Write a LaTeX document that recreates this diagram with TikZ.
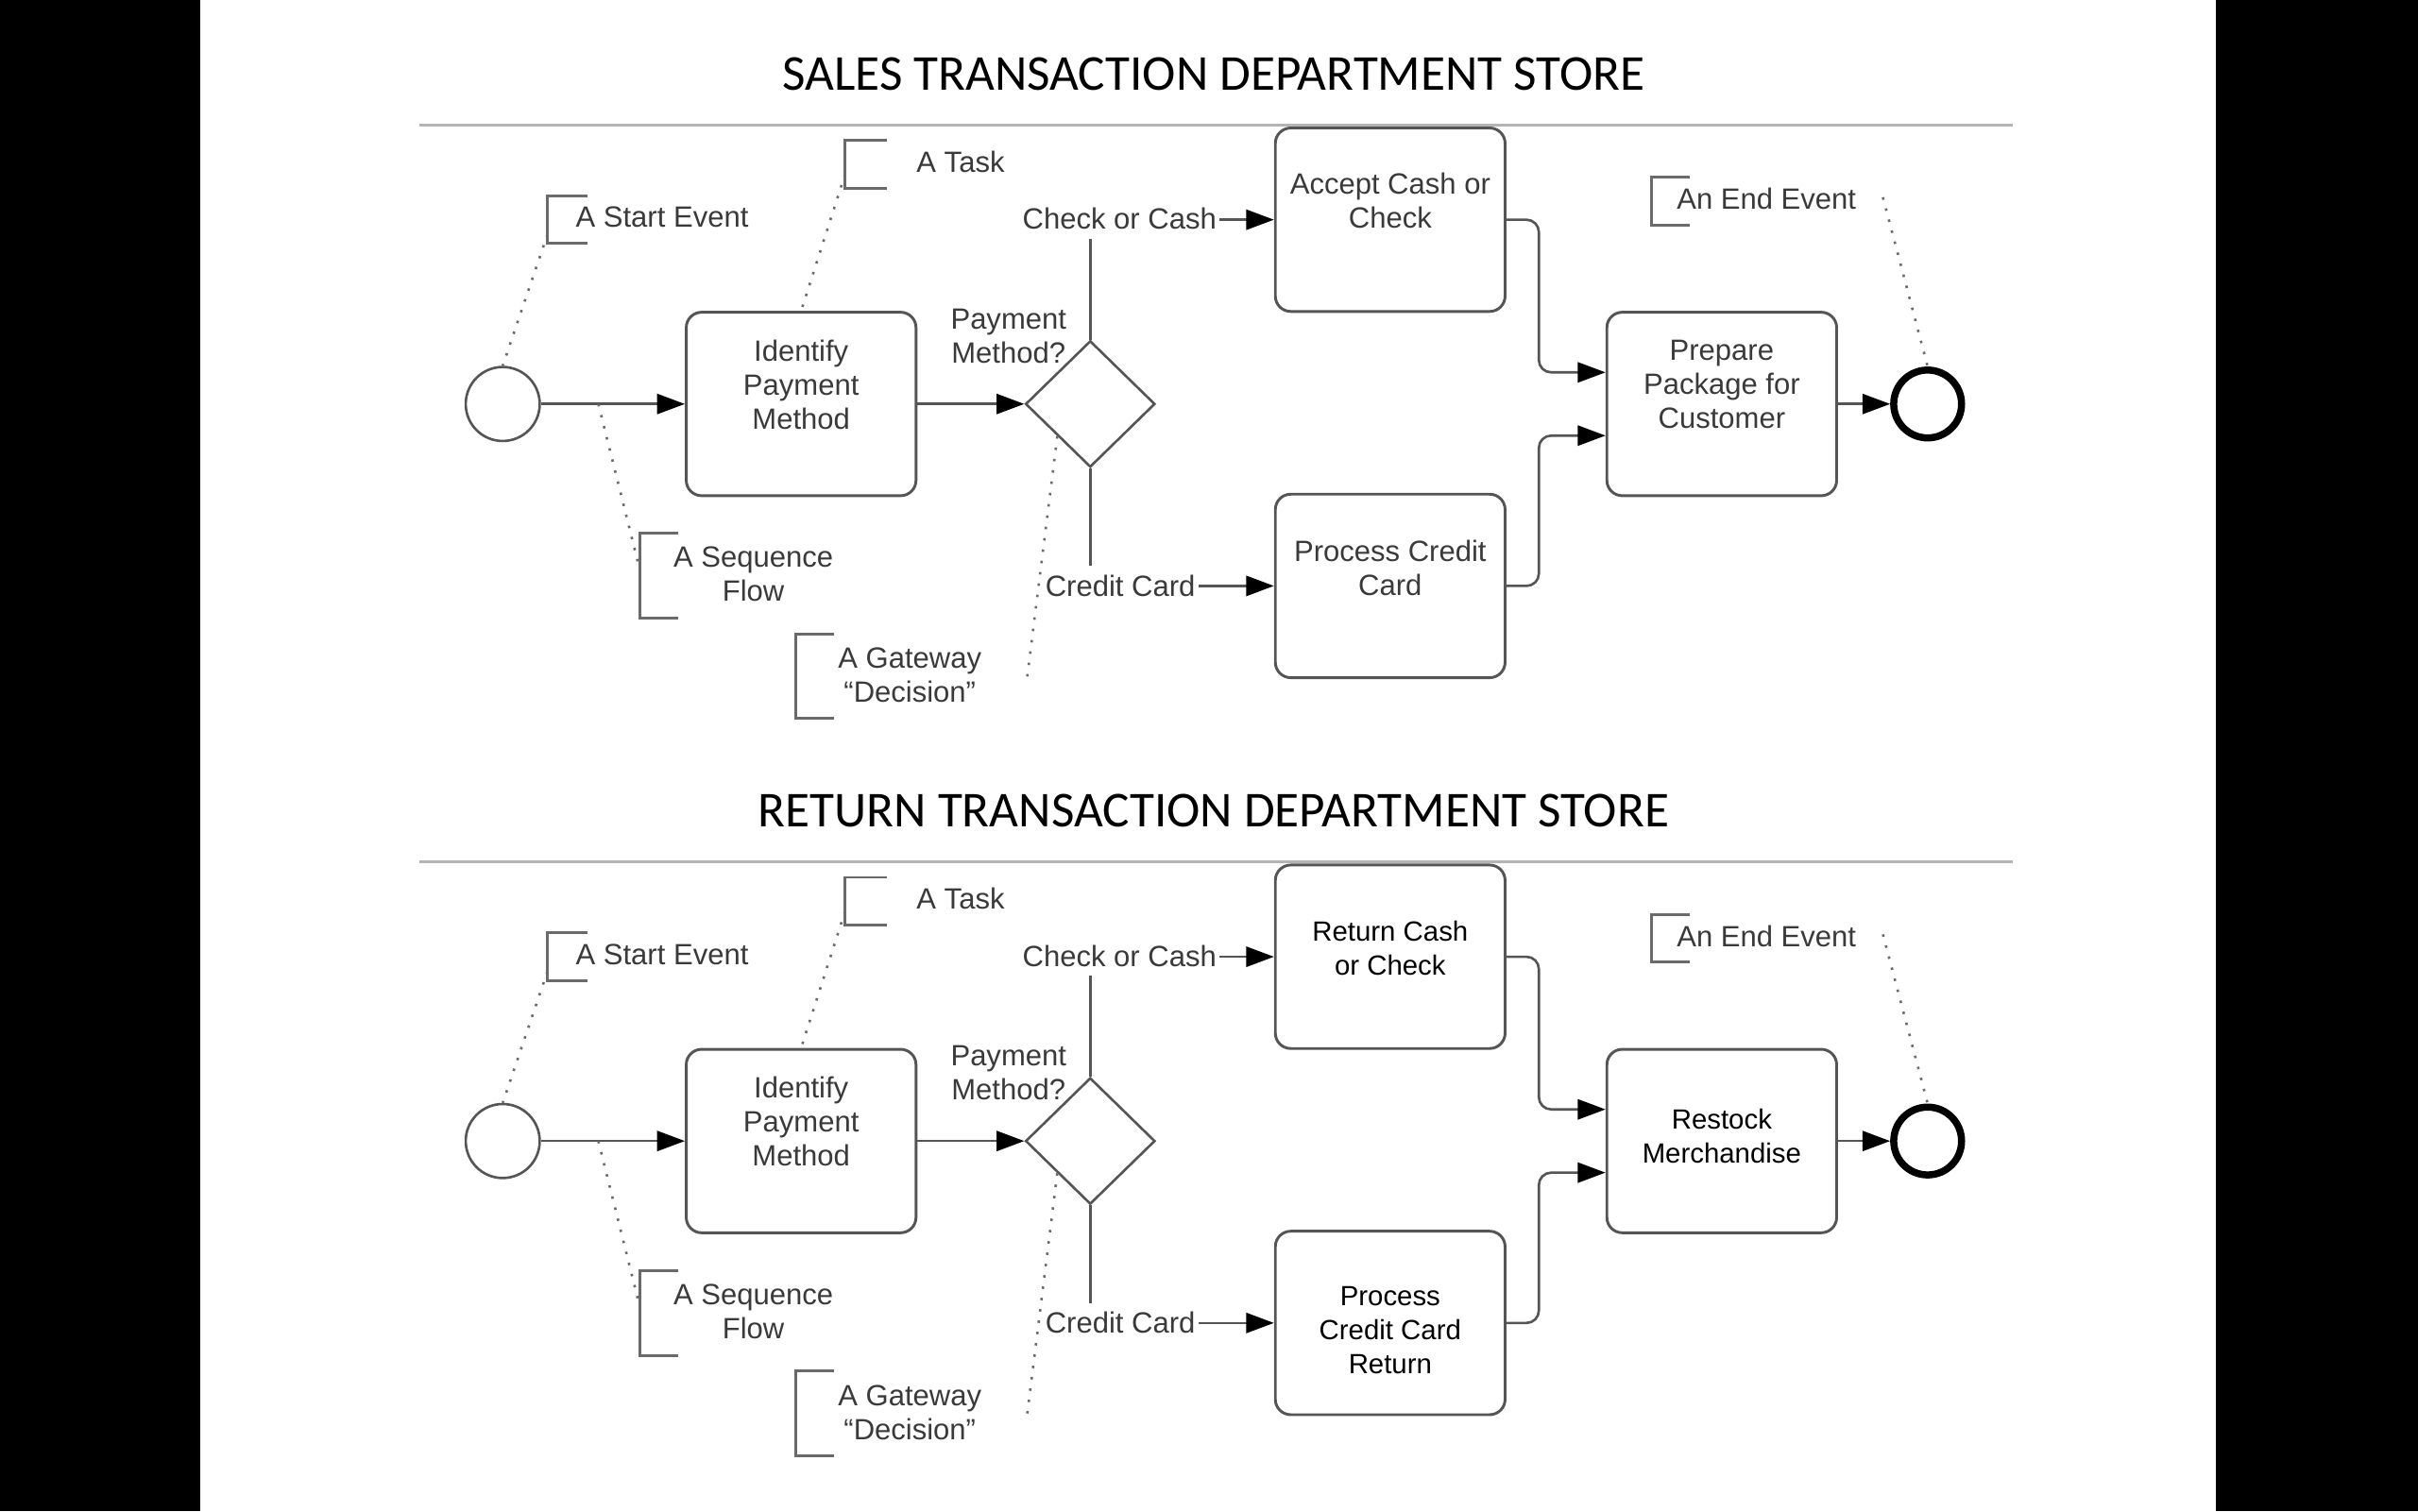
\documentclass[tikz,border=0pt]{standalone}
\usepackage{fontspec}
\setmainfont{Liberation Sans}
\newfontfamily\titlefont{Carlito}
\usetikzlibrary{shapes.geometric,arrows.meta}
\definecolor{linegray}{HTML}{555555}
\definecolor{textgray}{HTML}{3A3A3A}
\definecolor{rulegray}{HTML}{B4B4B4}
\definecolor{notegray}{HTML}{6A6A6A}

\begin{document}
\begin{tikzpicture}[x=0.5pt,y=0.5pt,yscale=-1,xscale=1,
  every node/.style={font=\fontsize{9.5}{11}\selectfont, text=textgray, inner sep=0pt},
  diagtitle/.style={font=\titlefont\fontsize{16.3}{20}\selectfont, text=black},
  task/.style={draw=linegray, line width=0.9pt, rounded corners=5pt, minimum width=74.5pt, minimum height=59.5pt},
  tasktext/.style={anchor=north, align=center},
  newtext/.style={anchor=north, align=center, text=black, font=\fontsize{9}{11}\selectfont},
  gateway/.style={draw=linegray, line width=0.8pt, diamond, minimum width=42pt, minimum height=41pt},
  startev/.style={draw=linegray, line width=0.8pt, circle, minimum size=24pt},
  endev/.style={draw=black, line width=2.3pt, circle, minimum size=22pt},
  flow/.style={draw=linegray, line width=0.8pt, -{Triangle[length=9pt,width=6.5pt,color=black]}},
  flowlabel/.style={fill=white, inner xsep=1pt, inner ysep=3pt},
  bracket/.style={draw=notegray, line width=0.9pt},
  assoc/.style={draw=notegray, line width=0.8pt, dash pattern=on 0.8pt off 2.9pt}
]
\useasboundingbox (0,0) rectangle (1568,980);
%Black side bars
\fill[black] (0,0) rectangle (130,980);
\fill[black] (1437,0) rectangle (1568,980);

%%%%%%%%%%%%%%%% SALES %%%%%%%%%%%%%%%%
% Title
\node[diagtitle] (titlea) at (787,48) {SALES TRANSACTION DEPARTMENT STORE};
%Straight Lines
\draw[rulegray, line width=1pt] (272,81) -- (1305,81);

%Shapes
\node[startev] (starta) at (326,262) {};
\node[task] (identa) at (519.5,262) {};
\node[gateway] (gwa) at (707,262) {};
\node[task] (accepta) at (901.5,142.5) {};
\node[task] (processa) at (901.5,380) {};
\node[task] (prepa) at (1116.5,262) {};
\node[endev] (enda) at (1250,262) {};

%Flows
\draw[flow] (starta) -- (identa);
\draw[flow] (identa) -- (gwa);
\draw[flow] (gwa.north) |- (accepta);
\draw[flow] (gwa.south) |- (processa);
\draw[flow, rounded corners=4pt] (accepta.east) -- ++(21,0) |- ([yshift=-10.25pt]prepa.west);
\draw[flow, rounded corners=4pt] (processa.east) -- ++(21,0) |- ([yshift=10.25pt]prepa.west);
\draw[flow] (prepa) -- (enda);

% Text Node
\node[flowlabel] (casha) at (726,142) {Check or Cash};
\node[flowlabel] (credita) at (726.5,380) {Credit Card};
\node[align=center] (gwatxt) at (654,218) {Payment\\Method?};
\node[tasktext] (identatxt) at (519.5,220) {Identify\\Payment\\Method};
\node[tasktext] (acceptatxt) at (901.5,112) {Accept Cash or\\Check};
\node[tasktext] (processatxt) at (901.5,350) {Process Credit\\Card};
\node[tasktext] (prepatxt) at (1116.5,220) {Prepare\\Package for\\Customer};

%Annotations
\draw[bracket] (381,127) -- (355,127) -- (355,158) -- (381,158);
\node[anchor=west] (startnotea) at (373,141) {A Start Event};
\coordinate (startpta) at (355,152);
\draw[assoc] (startpta) -- (starta.north);

\draw[bracket] (575,91) -- (548,91) -- (548,122) -- (575,122);
\node[anchor=west] (tasknotea) at (594,105) {A Task};
\coordinate (taskpta) at (548,113);
\draw[assoc] (taskpta) -- (identa.north);

\draw[bracket] (440,346) -- (415,346) -- (415,401) -- (440,401);
\node[align=center] (seqnotea) at (488.5,372.5) {A Sequence\\Flow};
\coordinate (seqpta) at (388,262);
\coordinate (seqenda) at (415,370);
\draw[assoc] (seqpta) -- (seqenda);

\draw[bracket] (541,411) -- (516,411) -- (516,466) -- (541,466);
\node[align=center] (gwnotea) at (590,438) {A Gateway\\“Decision”};
\coordinate (gwenda) at (666,440);
\draw[assoc] (gwa.south west) -- (gwenda);

\draw[bracket] (1096,115) -- (1071,115) -- (1071,146) -- (1096,146);
\node[anchor=west] (endnotea) at (1087,129) {An End Event};
\coordinate (endpta) at (1221,128);
\draw[assoc] (endpta) -- (enda.north);

%%%%%%%%%%%%%%%% RETURN %%%%%%%%%%%%%%%%
% Title
\node[diagtitle] (titleb) at (787,526) {RETURN TRANSACTION DEPARTMENT STORE};
%Straight Lines
\draw[rulegray, line width=1pt] (272,559) -- (1305,559);

%Shapes
\node[startev] (startb) at (326,740) {};
\node[task] (identb) at (519.5,740) {};
\node[gateway] (gwb) at (707,740) {};
\node[task] (returnb) at (901.5,620.5) {};
\node[task] (processb) at (901.5,858) {};
\node[task] (restockb) at (1116.5,740) {};
\node[endev] (endb) at (1250,740) {};

%Flows
\draw[flow] (startb) -- (identb);
\draw[flow] (identb) -- (gwb);
\draw[flow] (gwb.north) |- (returnb);
\draw[flow] (gwb.south) |- (processb);
\draw[flow, rounded corners=4pt] (returnb.east) -- ++(21,0) |- ([yshift=-10.25pt]restockb.west);
\draw[flow, rounded corners=4pt] (processb.east) -- ++(21,0) |- ([yshift=10.25pt]restockb.west);
\draw[flow] (restockb) -- (endb);

% Text Node
\node[flowlabel] (cashb) at (726,620) {Check or Cash};
\node[flowlabel] (creditb) at (726.5,858) {Credit Card};
\node[align=center] (gwbtxt) at (654,696) {Payment\\Method?};
\node[tasktext] (identbtxt) at (519.5,698) {Identify\\Payment\\Method};
\node[newtext] (returnbtxt) at (901.5,597) {Return Cash\\or Check};
\node[newtext] (processbtxt) at (901.5,834) {Process\\Credit Card\\Return};
\node[newtext] (restockbtxt) at (1116.5,719) {Restock\\Merchandise};

%Annotations
\draw[bracket] (381,605) -- (355,605) -- (355,636) -- (381,636);
\node[anchor=west] (startnoteb) at (373,619) {A Start Event};
\coordinate (startptb) at (355,630);
\draw[assoc] (startptb) -- (startb.north);

\draw[bracket] (575,569) -- (548,569) -- (548,600) -- (575,600);
\node[anchor=west] (tasknoteb) at (594,583) {A Task};
\coordinate (taskptb) at (548,591);
\draw[assoc] (taskptb) -- (identb.north);

\draw[bracket] (440,824) -- (415,824) -- (415,879) -- (440,879);
\node[align=center] (seqnoteb) at (488.5,850.5) {A Sequence\\Flow};
\coordinate (seqptb) at (388,740);
\coordinate (seqendb) at (415,848);
\draw[assoc] (seqptb) -- (seqendb);

\draw[bracket] (541,889) -- (516,889) -- (516,944) -- (541,944);
\node[align=center] (gwnoteb) at (590,916) {A Gateway\\“Decision”};
\coordinate (gwendb) at (666,918);
\draw[assoc] (gwb.south west) -- (gwendb);

\draw[bracket] (1096,593) -- (1071,593) -- (1071,624) -- (1096,624);
\node[anchor=west] (endnoteb) at (1087,607) {An End Event};
\coordinate (endptb) at (1221,606);
\draw[assoc] (endptb) -- (endb.north);

\end{tikzpicture}
\end{document}
